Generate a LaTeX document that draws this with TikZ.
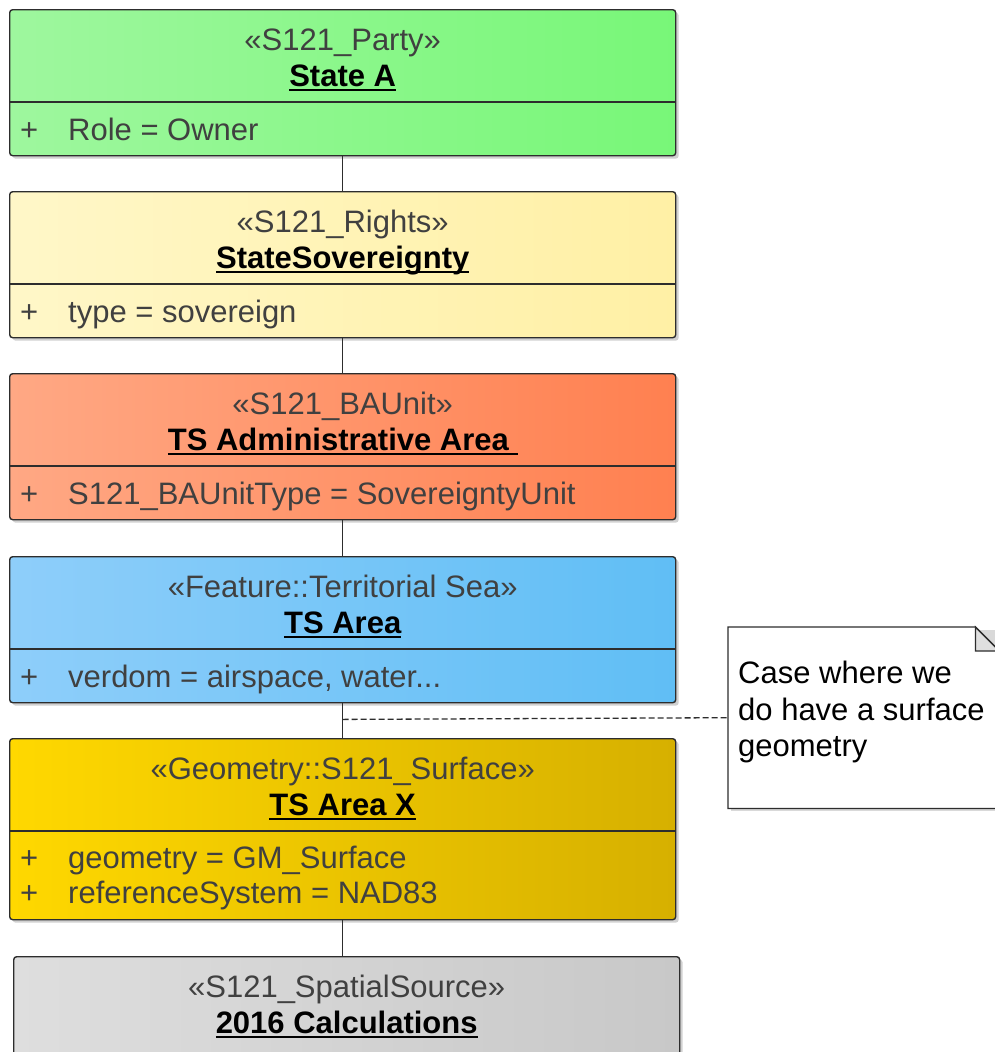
\documentclass[tikz,border=0pt]{standalone}
\usepackage{fontspec}
\setmainfont{Liberation Sans}
\usetikzlibrary{shadows}

% underlined class name with a fixed rule offset below the baseline
\newcommand\ulname[1]{\setbox0\hbox{#1}\rlap{\rule[-5pt]{\wd0}{1.8pt}}\box0}

\definecolor{greenL}{RGB}{158,247,158}
\definecolor{greenR}{RGB}{120,247,120}
\definecolor{yellowL}{RGB}{255,247,200}
\definecolor{yellowR}{RGB}{255,240,165}
\definecolor{orangeL}{RGB}{255,168,132}
\definecolor{orangeR}{RGB}{255,128,80}
\definecolor{blueL}{RGB}{142,206,250}
\definecolor{blueR}{RGB}{96,190,245}
\definecolor{goldL}{RGB}{255,216,0}
\definecolor{goldR}{RGB}{214,176,0}
\definecolor{grayL}{RGB}{222,222,222}
\definecolor{grayR}{RGB}{200,200,200}
\definecolor{txtgray}{RGB}{64,64,64}
\definecolor{edge}{RGB}{45,45,45}

\tikzset{
  umlbox/.style={draw=edge, line width=1.4pt, rounded corners=3pt,
    inner sep=0pt, minimum width=666pt, minimum height=146pt, anchor=north west,
    drop shadow={shadow xshift=3pt, shadow yshift=-3pt, opacity=0.18, fill=black}},
  txt/.style={inner sep=0pt, font=\fontsize{31}{37}\selectfont},
  stereo/.style={txt, text=txtgray, anchor=base},
  cname/.style={txt, text=black, anchor=base, font=\fontsize{31}{37}\selectfont\bfseries},
  attr/.style={txt, text=txtgray, anchor=base west},
  sepline/.style={draw=edge, line width=1.4pt},
  link/.style={draw=edge, line width=1.4pt},
  notelink/.style={draw=edge, line width=1.3pt, dash pattern=on 6pt off 3pt},
}

\begin{document}
\begin{tikzpicture}[x=1pt,y=-1pt]
\useasboundingbox (0,0) rectangle (995,1052);
\clip (0,0) rectangle (995,1052);
\fill[white] (0,0) rectangle (995,1052);

% --- State A
\node[umlbox, left color=greenL, right color=greenR] (party) at (9,9) {};
\draw[sepline] ([yshift=-93pt]party.north west) -- ([yshift=-93pt]party.north east);
\node[stereo] (partyS) at ([yshift=-41pt]party.north) {«S121\_Party»};
\node[cname] (partyN) at ([yshift=-77pt]party.north) {\ulname{State A}};
\node[attr] (partyP) at ([xshift=11pt,yshift=-131pt]party.north west) {+};
\node[attr] (partyA) at ([xshift=59pt,yshift=-131pt]party.north west) {Role = Owner};

% --- StateSovereignty
\node[umlbox, left color=yellowL, right color=yellowR] (rights) at (9,191) {};
\draw[sepline] ([yshift=-93pt]rights.north west) -- ([yshift=-93pt]rights.north east);
\node[stereo] (rightsS) at ([yshift=-41pt]rights.north) {«S121\_Rights»};
\node[cname] (rightsN) at ([yshift=-77pt]rights.north) {\ulname{StateSovereignty}};
\node[attr] (rightsP) at ([xshift=11pt,yshift=-131pt]rights.north west) {+};
\node[attr] (rightsA) at ([xshift=59pt,yshift=-131pt]rights.north west) {type = sovereign};

% --- TS Administrative Area
\node[umlbox, left color=orangeL, right color=orangeR] (baunit) at (9,373) {};
\draw[sepline] ([yshift=-93pt]baunit.north west) -- ([yshift=-93pt]baunit.north east);
\node[stereo] (baunitS) at ([yshift=-41pt]baunit.north) {«S121\_BAUnit»};
\node[cname] (baunitN) at ([yshift=-77pt]baunit.north) {\ulname{TS Administrative Area\ }};
\node[attr] (baunitP) at ([xshift=11pt,yshift=-131pt]baunit.north west) {+};
\node[attr] (baunitA) at ([xshift=59pt,yshift=-131pt]baunit.north west) {S121\_BAUnitType = SovereigntyUnit};

% --- TS Area
\node[umlbox, left color=blueL, right color=blueR] (tsarea) at (9,556) {};
\draw[sepline] ([yshift=-93pt]tsarea.north west) -- ([yshift=-93pt]tsarea.north east);
\node[stereo] (tsareaS) at ([yshift=-41pt]tsarea.north) {«Feature::Territorial Sea»};
\node[cname] (tsareaN) at ([yshift=-77pt]tsarea.north) {\ulname{TS Area}};
\node[attr] (tsareaP) at ([xshift=11pt,yshift=-131pt]tsarea.north west) {+};
\node[attr] (tsareaA) at ([xshift=59pt,yshift=-131pt]tsarea.north west) {verdom = airspace, water...};

% --- TS Area X
\node[umlbox, minimum height=181pt, left color=goldL, right color=goldR] (surf) at (9,738) {};
\draw[sepline] ([yshift=-93pt]surf.north west) -- ([yshift=-93pt]surf.north east);
\node[stereo] (surfS) at ([yshift=-41pt]surf.north) {«Geometry::S121\_Surface»};
\node[cname] (surfN) at ([yshift=-77pt]surf.north) {\ulname{TS Area X}};
\node[attr] (surfP1) at ([xshift=11pt,yshift=-130pt]surf.north west) {+};
\node[attr] (surfA1) at ([xshift=59pt,yshift=-130pt]surf.north west) {geometry = GM\_Surface};
\node[attr] (surfP2) at ([xshift=11pt,yshift=-165pt]surf.north west) {+};
\node[attr] (surfA2) at ([xshift=59pt,yshift=-165pt]surf.north west) {referenceSystem = NAD83};

% --- 2016 Calculations
\node[umlbox, left color=grayL, right color=grayR] (source) at (13,956) {};
\node[stereo] (sourceS) at ([yshift=-41pt]source.north) {«S121\_SpatialSource»};
\node[cname] (sourceN) at ([yshift=-77pt]source.north) {\ulname{2016 Calculations}};

% --- links
\draw[link] (party.south) -- (rights.north);
\draw[link] (rights.south) -- (baunit.north);
\draw[link] (baunit.south) -- (tsarea.north);
\draw[link] (tsarea.south) -- (surf.north);
\draw[link] (surf.south) -- (surf.south |- source.north);

% --- note
\node[inner sep=0pt, minimum width=271pt, minimum height=181pt, anchor=north west] (note) at (728,627) {};
\fill[black, opacity=0.15] ([xshift=3pt,yshift=-3pt]note.north west) rectangle ([xshift=3pt,yshift=-3pt]note.south east);
\filldraw[draw=edge, fill=white, line width=1.3pt]
  (note.north west) -- ([xshift=-24pt]note.north east) -- ([yshift=-24pt]note.north east)
  -- (note.south east) -- (note.south west) -- cycle;
\filldraw[draw=edge, fill=gray!25, line width=1.3pt]
  ([xshift=-24pt]note.north east) -- ([xshift=-24pt,yshift=-24pt]note.north east)
  -- ([yshift=-24pt]note.north east) -- cycle;
\node[attr, text=black] (noteL1) at ([xshift=10pt,yshift=-56pt]note.north west) {Case where we};
\node[attr, text=black] (noteL2) at ([xshift=10pt,yshift=-93pt]note.north west) {do have a surface};
\node[attr, text=black] (noteL3) at ([xshift=10pt,yshift=-129pt]note.north west) {geometry};

\coordinate (tap) at ([yshift=-16pt]tsarea.south);
\draw[notelink] (tap) -- (note.west);
\end{tikzpicture}
\end{document}
